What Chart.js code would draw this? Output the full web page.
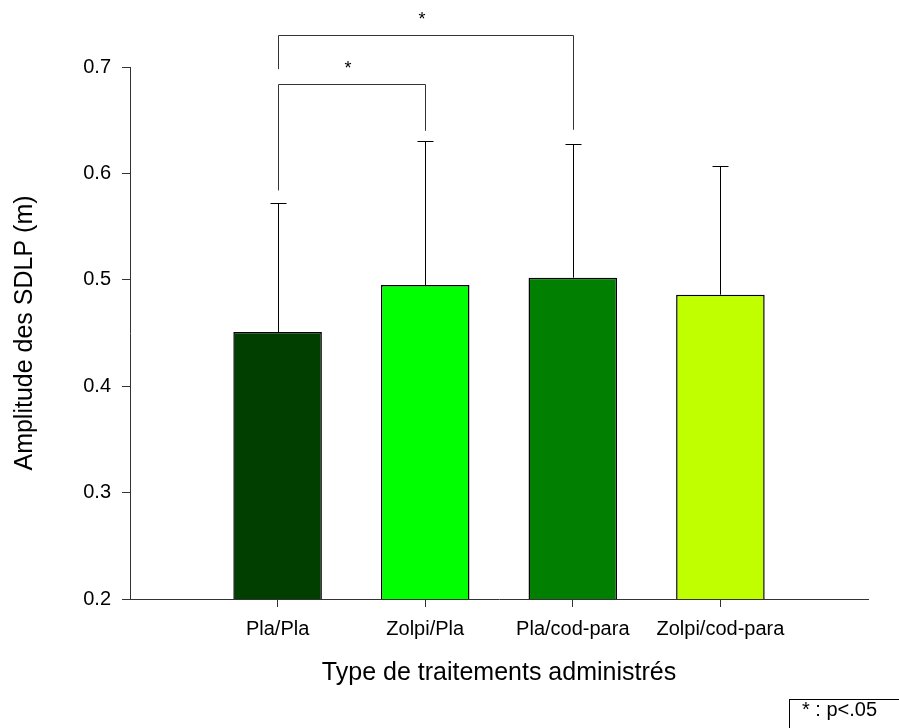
<!DOCTYPE html>
<html>
<head>
<meta charset="utf-8">
<script src="https://cdn.jsdelivr.net/npm/chart.js@4/dist/chart.umd.min.js"></script>
<style>
  body { margin: 0; background: #fff; }
  canvas { display: block; }
</style>
</head>
<body>
<canvas id="sdlpChart" width="899" height="728"></canvas>
<script>
// treatments, with empty slots at both ends of the axis
var labels = ['', 'Pla/Pla', 'Zolpi/Pla', 'Pla/cod-para', 'Zolpi/cod-para', ''];
var means = [null, 0.451, 0.495, 0.502, 0.486, null];
var errors = [null, 0.121, 0.135, 0.126, 0.121, null];
var barColors = ['#003f00', '#003f00', '#00ff00', '#007f00', '#bfff00', '#bfff00'];
var yTicks = [0.2, 0.3, 0.4, 0.5, 0.6, 0.7];

// significance brackets: from/to index, bar level, left leg end, right leg end
var bracketFrom = [1, 1];
var bracketTo = [3, 2];
var bracketLevel = [0.730, 0.684];
var bracketLeftEnd = [0.698, 0.584];
var bracketRightEnd = [0.641, 0.640];
var bracketMark = ['*', '*'];

Chart.defaults.font.family = 'Arial, "Liberation Sans", sans-serif';
Chart.defaults.color = '#000';

var axisColor = '#333';

var errorBars = {
    id: 'errorBars',
    afterDatasetsDraw: function (chart) {
        var ctx = chart.ctx;
        var y = chart.scales.y;
        var meta = chart.getDatasetMeta(0);
        ctx.save();
        ctx.strokeStyle = '#000';
        ctx.lineWidth = 1;
        meta.data.forEach(function (bar, i) {
            if (means[i] == null) return;
            var x = Math.round(bar.x) + 0.5;
            var top = y.getPixelForValue(means[i]);
            var cap = Math.round(y.getPixelForValue(means[i] + errors[i])) + 0.5;
            ctx.beginPath();
            ctx.moveTo(x, top);
            ctx.lineTo(x, cap);
            ctx.moveTo(x - 8, cap);
            ctx.lineTo(x + 8, cap);
            ctx.stroke();
        });
        ctx.restore();
    },
    afterDraw: function (chart) {
        var ctx = chart.ctx;
        var xs = chart.scales.x;
        var y = chart.scales.y;
        ctx.save();
        ctx.strokeStyle = axisColor;
        ctx.lineWidth = 1;
        for (var k = 0; k < bracketFrom.length; k++) {
            var x1 = Math.round(xs.getPixelForValue(bracketFrom[k])) + 0.5;
            var x2 = Math.round(xs.getPixelForValue(bracketTo[k])) + 0.5;
            var yl = Math.round(y.getPixelForValue(bracketLevel[k])) + 0.5;
            ctx.beginPath();
            ctx.moveTo(x1, y.getPixelForValue(bracketLeftEnd[k]));
            ctx.lineTo(x1, yl);
            ctx.lineTo(x2, yl);
            ctx.lineTo(x2, y.getPixelForValue(bracketRightEnd[k]));
            ctx.stroke();
            ctx.fillStyle = '#000';
            ctx.font = '18px Arial, "Liberation Sans", sans-serif';
            ctx.textAlign = 'center';
            ctx.textBaseline = 'alphabetic';
            ctx.fillText(bracketMark[k], (x1 + x2) / 2 - 4, yl - 11);
        }
        // significance note box
        ctx.strokeStyle = '#000';
        ctx.strokeRect(789.5, 699.5, 130, 40);
        ctx.font = '20px Arial, "Liberation Sans", sans-serif';
        ctx.textAlign = 'left';
        ctx.textBaseline = 'alphabetic';
        ctx.fillText('* : p<.05', 802, 716);
        ctx.restore();
    }
};

new Chart(document.getElementById('sdlpChart').getContext('2d'), {
    type: 'bar',
    data: {
        labels: labels,
        datasets: [{
            data: means,
            backgroundColor: barColors,
            borderColor: '#000',
            borderWidth: 1.5,
            barPercentage: 0.6,
            categoryPercentage: 1
        }]
    },
    options: {
        responsive: false,
        animation: false,
        layout: { padding: { left: 0, top: 67, right: 31, bottom: 0 } },
        plugins: {
            legend: { display: false },
            tooltip: { enabled: false }
        },
        scales: {
            x: {
                offset: false,
                grid: {
                    offset: false,
                    drawOnChartArea: false,
                    tickLength: 8,
                    color: function (c) {
                        return (c.index === 0 || c.index === labels.length - 1) ? 'rgba(0,0,0,0)' : axisColor;
                    }
                },
                border: { color: axisColor, width: 1 },
                ticks: { font: { size: 20 }, padding: 10, maxRotation: 0, autoSkip: false },
                title: {
                    display: true,
                    text: 'Type de traitements administrés',
                    font: { size: 25 },
                    padding: { top: 0, bottom: 40 }
                },
                afterFit: function (s) { s.height = 129; }
            },
            y: {
                min: 0.2,
                max: 0.7,
                afterBuildTicks: function (s) {
                    s.ticks = yTicks.map(function (v) { return { value: v }; });
                },
                grid: { drawOnChartArea: false, tickLength: 8, color: axisColor },
                border: { color: axisColor, width: 1 },
                ticks: {
                    font: { size: 20 },
                    padding: 11,
                    callback: function (v) { return v.toFixed(1); }
                },
                title: {
                    display: true,
                    text: 'Amplitude des SDLP (m)',
                    font: { size: 25 },
                    padding: { top: 10, bottom: 0 }
                },
                afterFit: function (s) { s.width = 130; }
            }
        }
    },
    plugins: [errorBars]
});
</script>
</body>
</html>
